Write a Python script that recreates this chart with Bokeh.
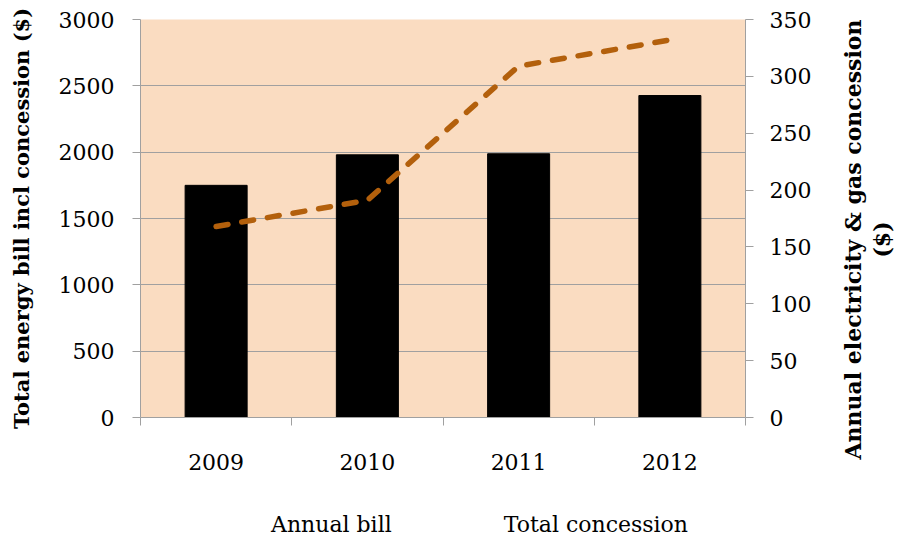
import math
from bokeh.plotting import figure
from bokeh.layouts import row, column
from bokeh.models import Range1d, LinearAxis, FixedTicker, Legend, LegendItem
from bokeh.core.properties import value
from bokeh.embed import file_html
from bokeh.resources import INLINE

years = ["2009", "2010", "2011", "2012"]
annual_bill = [1750, 1980, 1988, 2427]
total_concession = [168, 191, 309, 332]
left_ticks = [0, 500, 1000, 1500, 2000, 2500, 3000]
right_ticks = [0, 50, 100, 150, 200, 250, 300, 350]
left_title = "Total energy bill incl concession ($)"
right_title = "Annual electricity & gas concession\n($)"
series_names = ["Annual bill", "Total concession"]

FONT = "DejaVu Serif"
GRAY = "#A0A0A0"
LINE_COLOR = "#B3600C"
BG = "#FADCC1"
BAR_STYLE = dict(fill_color="black", line_color="black")
LINE_STYLE = dict(line_color=LINE_COLOR, line_width=5.5, line_dash="12 14",
                  line_cap="round", line_join="round")

centers = [i + 0.5 for i in range(len(years))]
bounds = [float(i) for i in range(len(years) + 1)]

p = figure(width=835, height=500, frame_width=605, frame_height=398,
           x_range=Range1d(0, len(years)), y_range=Range1d(0, 3000),
           output_backend="svg", toolbar_location=None,
           min_border_left=140, min_border_right=90,
           min_border_top=19, min_border_bottom=83,
           background_fill_color=BG, border_fill_color="white",
           outline_line_color=None)
p.extra_y_ranges = {"right": Range1d(0, 350)}

p.vbar(x=centers, top=annual_bill, width=0.41, **BAR_STYLE)
p.line(x=centers, y=total_concession, y_range_name="right", **LINE_STYLE)

# grid
p.xgrid.visible = False
p.ygrid.ticker = FixedTicker(ticks=left_ticks)
p.ygrid.grid_line_color = GRAY
p.ygrid.grid_line_width = 1

# bottom axis
xa = p.xaxis[0]
xa.ticker = FixedTicker(ticks=centers, minor_ticks=bounds)
xa.major_label_overrides = {c: y for c, y in zip(centers, years)}
xa.major_tick_out = 0
xa.major_tick_in = 0
xa.minor_tick_out = 8
xa.minor_tick_in = 0
xa.minor_tick_line_color = GRAY
xa.axis_line_color = GRAY
xa.major_label_standoff = 28
xa.major_label_text_font = FONT
xa.major_label_text_font_size = "22px"
xa.major_label_text_color = "black"

# left axis
ya = p.yaxis[0]
ya.ticker = FixedTicker(ticks=left_ticks)
ya.major_tick_out = 8
ya.major_tick_in = 0
ya.minor_tick_out = 0
ya.minor_tick_in = 0
ya.major_tick_line_color = GRAY
ya.axis_line_color = GRAY
ya.major_label_standoff = 18
ya.major_label_text_font = FONT
ya.major_label_text_font_size = "22px"
ya.major_label_text_color = "black"
ya.axis_label = left_title
ya.axis_label_text_font = FONT
ya.axis_label_text_font_style = "bold"
ya.axis_label_text_font_size = "21px"
ya.axis_label_text_color = "black"
ya.axis_label_standoff = 22

# right axis
ra = LinearAxis(y_range_name="right", ticker=FixedTicker(ticks=right_ticks))
ra.major_tick_out = 8
ra.major_tick_in = 0
ra.minor_tick_out = 0
ra.minor_tick_in = 0
ra.major_tick_line_color = GRAY
ra.axis_line_color = GRAY
ra.major_label_standoff = 16
ra.major_label_text_font = FONT
ra.major_label_text_font_size = "22px"
ra.major_label_text_color = "black"
p.add_layout(ra, "right")

# right-hand title (reads bottom to top, two lines)
p2 = figure(width=64, height=500, frame_width=64, frame_height=500,
            x_range=Range1d(0, 1), y_range=Range1d(0, 1),
            x_axis_type=None, y_axis_type=None,
            output_backend="svg", toolbar_location=None,
            min_border=0, outline_line_color=None,
            background_fill_color="white", border_fill_color="white")
p2.grid.visible = False
p2.text(x=[0.5], y=[0.56], text=[right_title], angle=math.pi / 2,
        text_align="center", text_baseline="middle",
        text_font=value(FONT), text_font_style="bold", text_font_size="22px",
        text_color="black", text_line_height=1.15)

# legend strip below the chart
p3 = figure(width=899, height=40, frame_width=899, frame_height=40,
            x_range=Range1d(0, 1), y_range=Range1d(0, 1),
            x_axis_type=None, y_axis_type=None,
            output_backend="svg", toolbar_location=None,
            min_border=0, outline_line_color=None,
            background_fill_color="white", border_fill_color="white")
p3.grid.visible = False
lb = p3.vbar(x=[], top=[], width=0.41, **BAR_STYLE)
ll = p3.line(x=[], y=[], **LINE_STYLE)
legend = Legend(items=[LegendItem(label=series_names[0], renderers=[lb]),
                       LegendItem(label=series_names[1], renderers=[ll])],
                orientation="horizontal", location=(199, 3),
                glyph_width=68, glyph_height=17, label_standoff=4, spacing=40,
                padding=2, margin=0, background_fill_alpha=0, border_line_color=None,
                label_text_font=FONT, label_text_font_size="22px", label_text_color="black")
p3.add_layout(legend)

open("out.html", "w").write(file_html(column(row(p, p2), p3), INLINE))
